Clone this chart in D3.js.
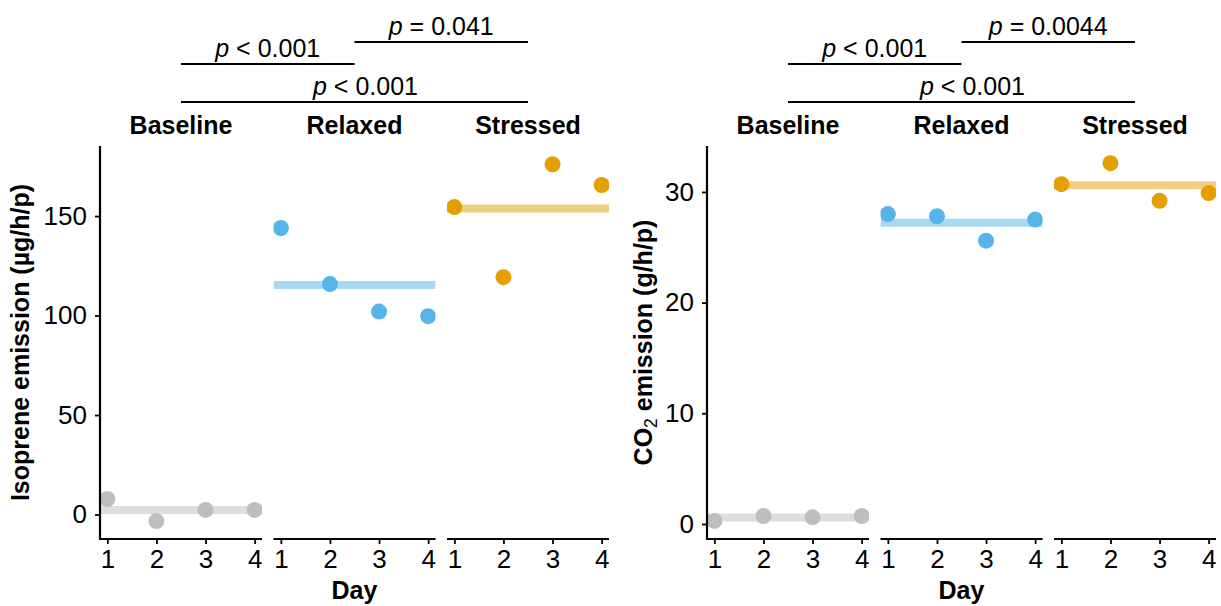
<!DOCTYPE html>
<html>
<head>
<meta charset="utf-8">
<script src="https://cdn.jsdelivr.net/npm/d3@7"></script>
<style>
  html, body { margin: 0; padding: 0; background: #fff; }
  svg { display: block; }
  text { font-family: "Liberation Sans", Arial, sans-serif; fill: #000; }
</style>
</head>
<body>
<svg id="chart" width="1221" height="606"></svg>
<script>
// ---------------- DATA ----------------
const days = [1, 2, 3, 4];
const conditions = ["Baseline", "Relaxed", "Stressed"];
const dayTicks = ["1", "2", "3", "4"];

const isoBaseline = [7.8, -3.3, 2.3, 2.3];
const isoRelaxed  = [144.0, 115.8, 102.0, 99.7];
const isoStressed = [154.5, 119.3, 176.0, 165.6];
const isoTicks    = [0, 50, 100, 150];
const isoPairs    = [[0, 1], [1, 2], [0, 2]];
const isoPLabels  = ["< 0.001", "= 0.041", "< 0.001"];

const co2Baseline = [0.27, 0.72, 0.60, 0.72];
const co2Relaxed  = [28.0, 27.8, 25.6, 27.5];
const co2Stressed = [30.7, 32.6, 29.2, 29.9];
const co2Ticks    = [0, 10, 20, 30];
const co2Pairs    = [[0, 1], [1, 2], [0, 2]];
const co2PLabels  = ["< 0.001", "= 0.0044", "< 0.001"];

const pointColors = ["#BEBEBE", "#56B4E9", "#E69F00"];

// ---------------- LAYOUT ----------------
const svg = d3.select("#chart");
const FS = 25, TFS = 26;
const plotTop = 146, plotBottom = 539;
const facetW = 162, facetGap = 11.5;
const bracketY = [64, 42, 102];

function drawPanel(cfg) {
  const g = svg.append("g");
  const series = [cfg.base, cfg.relaxed, cfg.stressed];
  const y = d3.scaleLinear().domain(cfg.yDomain).range([plotBottom, plotTop]);

  const facetStart = d3.scalePoint().domain(conditions)
    .range([cfg.axisX, cfg.axisX + 2 * (facetW + facetGap)]);

  const facets = conditions.map((c, i) => {
    const x0 = facetStart(c);
    const x = d3.scaleLinear().domain([0.85, 4.15]).range([x0, x0 + facetW]);
    return { c, i, x0, x };
  });

  facets.forEach(f => {
    svg.append("clipPath").attr("id", `clip-${cfg.id}-${f.i}`)
      .append("rect").attr("x", f.x0).attr("y", plotTop).attr("width", facetW).attr("height", plotBottom - plotTop);
  });

  facets.forEach(f => {
    const vals = series[f.i];
    const col = pointColors[f.i];
    const pg = g.append("g").attr("clip-path", `url(#clip-${cfg.id}-${f.i})`);
    const m = d3.mean(vals);
    pg.append("line")
      .attr("x1", f.x0).attr("x2", f.x0 + facetW)
      .attr("y1", y(m)).attr("y2", y(m))
      .attr("stroke", col).attr("stroke-opacity", 0.5).attr("stroke-width", 8);
    pg.selectAll("circle").data(days).join("circle")
      .attr("cx", d => f.x(d)).attr("cy", (d, k) => y(vals[k]))
      .attr("r", 8).attr("fill", col);

    const xa = g.append("g").attr("transform", `translate(0,${plotBottom})`)
      .call(d3.axisBottom(f.x).tickValues(days).tickFormat((d, k) => dayTicks[k]).tickSize(5).tickPadding(6).tickSizeOuter(0));
    xa.select(".domain").attr("stroke-width", 2.2).attr("d", `M${f.x0},0H${f.x0 + facetW}`);
    xa.selectAll(".tick line").attr("stroke-width", 1.8);
    xa.selectAll(".tick text").attr("font-size", TFS).attr("font-family", "Liberation Sans, Arial, sans-serif");

    g.append("text").attr("x", f.x0 + facetW / 2).attr("y", 134)
      .attr("text-anchor", "middle").attr("font-size", FS).attr("font-weight", "bold").text(f.c);
  });

  const ya = g.append("g").attr("transform", `translate(${cfg.axisX},0)`)
    .call(d3.axisLeft(y).tickValues(cfg.ticks).tickSize(5).tickPadding(8).tickSizeOuter(0));
  ya.select(".domain").attr("stroke-width", 2.2).attr("d", `M0,${plotTop}V${plotBottom + 1}`);
  ya.selectAll(".tick line").attr("stroke-width", 1.8);
  ya.selectAll(".tick text").attr("font-size", TFS).attr("font-family", "Liberation Sans, Arial, sans-serif");

  const yt = g.append("text")
    .attr("transform", `translate(${cfg.titleX},${(plotTop + plotBottom) / 2}) rotate(-90)`)
    .attr("text-anchor", "middle").attr("font-size", FS).attr("font-weight", "bold");
  cfg.title(yt);

  g.append("text").attr("x", facets[1].x0 + facetW / 2).attr("y", 599)
    .attr("text-anchor", "middle").attr("font-size", FS).attr("font-weight", "bold").text("Day");

  const centers = facets.map(f => f.x0 + facetW / 2);
  cfg.pairs.forEach((p, k) => {
    const x1 = centers[p[0]], x2 = centers[p[1]];
    const yy = bracketY[k];
    g.append("line").attr("x1", x1).attr("x2", x2).attr("y1", yy).attr("y2", yy)
      .attr("stroke", "#000").attr("stroke-width", 2);
    const shift = (p[1] - p[0] > 1) ? 11 : 0;
    const t = g.append("text").attr("x", (x1 + x2) / 2 + shift).attr("y", yy - 7)
      .attr("text-anchor", "middle").attr("font-size", FS);
    t.append("tspan").attr("font-style", "italic").text("p");
    t.append("tspan").text(" " + cfg.plabels[k]);
  });
}

drawPanel({
  id: "iso", axisX: 100, yDomain: [-12.3, 185.2], ticks: isoTicks,
  base: isoBaseline, relaxed: isoRelaxed, stressed: isoStressed,
  pairs: isoPairs, plabels: isoPLabels, titleX: 29,
  title: t => t.text("Isoprene emission (µg/h/p)")
});

drawPanel({
  id: "co2", axisX: 707, yDomain: [-1.36, 34.15], ticks: co2Ticks,
  base: co2Baseline, relaxed: co2Relaxed, stressed: co2Stressed,
  pairs: co2Pairs, plabels: co2PLabels, titleX: 652,
  title: t => {
    t.append("tspan").text("CO");
    t.append("tspan").attr("font-size", FS * 0.7).attr("font-weight", "normal").attr("dy", 5).text("2");
    t.append("tspan").attr("dy", -5).text(" emission (g/h/p)");
  }
});
</script>
</body>
</html>
